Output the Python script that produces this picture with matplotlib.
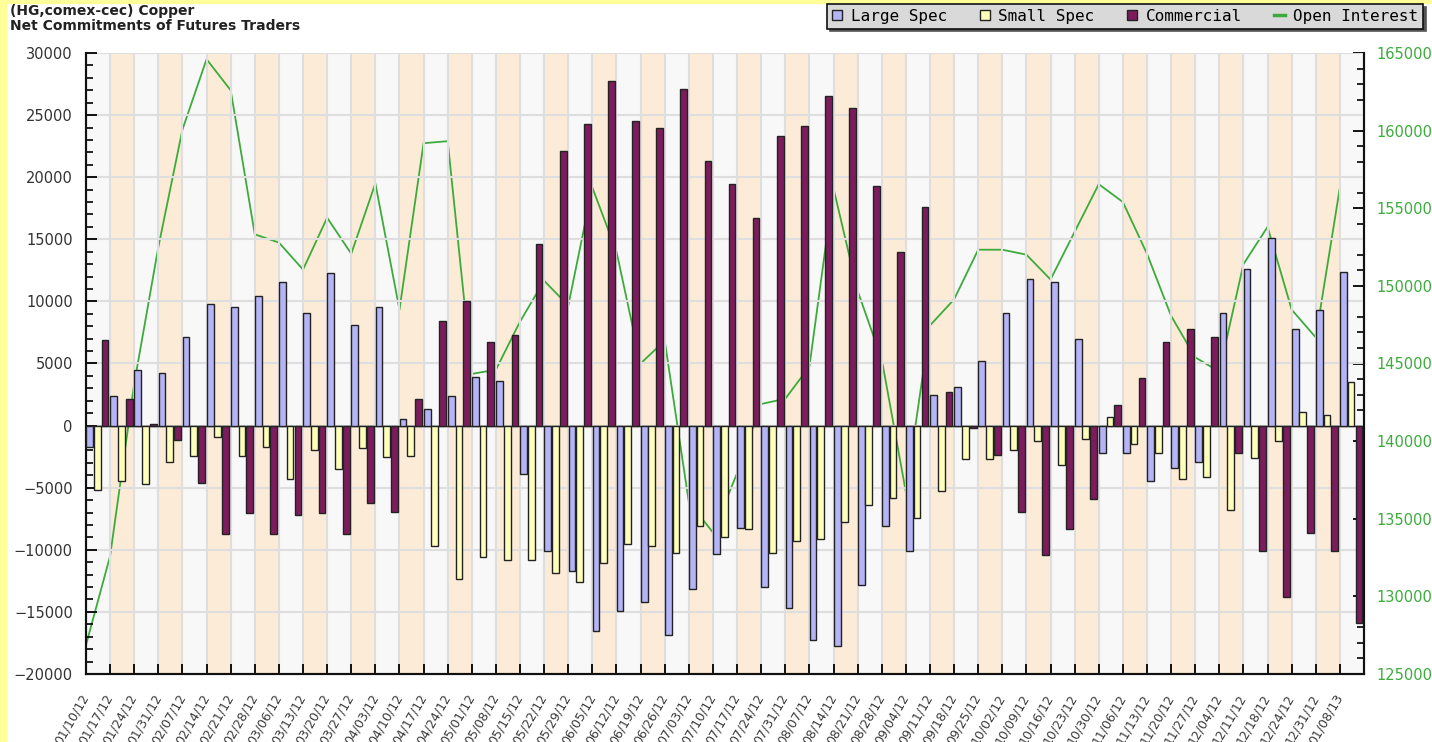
import matplotlib
matplotlib.use("Agg")
import matplotlib.pyplot as plt
import matplotlib.transforms as mtransforms
from matplotlib.lines import Line2D
from matplotlib.patches import Rectangle
from matplotlib.ticker import MultipleLocator, AutoMinorLocator
import numpy as np

weeks = ["01/10/12", "01/17/12", "01/24/12", "01/31/12", "02/07/12", "02/14/12", "02/21/12",
         "02/28/12", "03/06/12", "03/13/12", "03/20/12", "03/27/12", "04/03/12", "04/10/12",
         "04/17/12", "04/24/12", "05/01/12", "05/08/12", "05/15/12", "05/22/12", "05/29/12",
         "06/05/12", "06/12/12", "06/19/12", "06/26/12", "07/03/12", "07/10/12", "07/17/12",
         "07/24/12", "07/31/12", "08/07/12", "08/14/12", "08/21/12", "08/28/12", "09/04/12",
         "09/11/12", "09/18/12", "09/25/12", "10/02/12", "10/09/12", "10/16/12", "10/23/12",
         "10/30/12", "11/06/12", "11/13/12", "11/20/12", "11/27/12", "12/04/12", "12/11/12",
         "12/18/12", "12/24/12", "12/31/12", "01/08/13"]

large_spec = [-1700, 2400, 4500, 4270, 7130, 9770, 9530, 10470, 11530, 9070, 12270, 8130, 9530,
              500, 1330, 2400, 3900, 3570, -3900, -10100, -11670, -16570, -14930, -14230, -16830,
              -13170, -10330, -8230, -13000, -14670, -17270, -17730, -12800, -8070, -10100, 2470,
              3070, 5230, 9070, 11770, 11570, 7000, -2230, -2230, -4430, -3400, -2930, 9100, 12630,
              15070, 7770, 9330, 12330]

small_spec = [-5170, -4430, -4700, -2930, -2470, -930, -2430, -1730, -4330, -2000, -3530, -1770,
              -2530, -2430, -9670, -12330, -10570, -10830, -10830, -11900, -12570, -11070, -9500,
              -9670, -10230, -8070, -9000, -8330, -10230, -9270, -9170, -7730, -6430, -5830, -7400,
              -5270, -2670, -2670, -2000, -1270, -3170, -1070, 670, -1500, -2230, -4330, -4100,
              -6830, -2570, -1270, 1070, 830, 3500]

commercial = [6870, 2130, 100, -1170, -4600, -8700, -7070, -8700, -7170, -7070, -8700, -6230, -6930,
              2130, 8400, 10000, 6730, 7330, 14600, 22070, 24270, 27730, 24500, 23930, 27100, 21330,
              19430, 16730, 23330, 24130, 26500, 25570, 19330, 14000, 17570, 2700, -230, -2330,
              -6930, -10430, -8330, -5900, 1670, 3800, 6730, 7770, 7100, -2230, -10100, -13770,
              -8670, -10100, -15900]

open_interest = [126870, 132600, 143700, 152500, 160070, 164600, 162600, 153320, 152790, 151050,
                 154390, 152070, 156600, 148470, 159190, 159320, 144330, 144600, 147700, 150330,
                 148730, 156330, 152200, 145000, 146470, 136070, 134120, 137930, 142390, 142730,
                 144800, 156280, 149670, 145270, 136730, 147450, 149130, 152330, 152330, 152010,
                 150410, 153480, 156550, 155400, 152070, 148070, 145400, 144470, 151400, 153800,
                 148470, 146680, 156330]

C_LARGE = "#b4b4f6"
C_SMALL = "#ffffbc"
C_COMM = "#7c1c5c"
C_OI = "#3cab3c"
EDGE = "#222222"

fig = plt.figure(figsize=(14.32, 7.42), dpi=100, facecolor="white")
# yellow strips left and top of the original frame
fig.patches.append(Rectangle((0, 0), 6 / 1432, 1, transform=fig.transFigure, color="#ffff99", zorder=0))
fig.patches.append(Rectangle((0, 1 - 3 / 742), 1, 3 / 742, transform=fig.transFigure, color="#ffff99", zorder=0))

ax = fig.add_axes([86 / 1432, 1 - 674 / 742, (1364 - 86) / 1432, (674 - 53) / 742])
ax2 = ax.twinx()
ax.set_zorder(ax2.get_zorder() + 1)
ax.patch.set_visible(False)

n = len(weeks)
x = np.arange(n)

# alternating week bands + open interest (behind the bars)
for i in range(n):
    ax2.axvspan(i, i + 1, color="#f8f8f8" if i % 2 == 0 else "#fcebd6", lw=0, zorder=0)
ax2.plot(x, open_interest, color=C_OI, lw=1.3, zorder=2)
ax2.set_ylim(125000, 165000)

w = 0.28
ax.bar(x + 0.15, large_spec, w, color=C_LARGE, edgecolor=EDGE, lw=1, zorder=3)
ax.bar(x + 0.465, small_spec, w, color=C_SMALL, edgecolor=EDGE, lw=1, zorder=3)
ax.bar(x + 0.79, commercial, w, color=C_COMM, edgecolor=EDGE, lw=1, zorder=3)
ax.axhline(0, color=EDGE, lw=1, zorder=2.5)

ax.set_xlim(0, n)
ax.set_ylim(-20000, 30000)
ax.yaxis.set_major_locator(MultipleLocator(5000))
ax.yaxis.set_minor_locator(AutoMinorLocator(5))
ax2.yaxis.set_major_locator(MultipleLocator(5000))
ax2.yaxis.set_minor_locator(AutoMinorLocator(5))

ax.set_xticks(x)
ax.set_xticklabels(weeks, rotation=60, ha="right", va="center", rotation_mode="anchor",
                   fontsize=9, color="#3a3a3a")
offset = mtransforms.ScaledTranslation(7 / 100, 0, fig.dpi_scale_trans)
for lab in ax.get_xticklabels():
    lab.set_transform(lab.get_transform() + offset)

ax.grid(True, axis="both", which="major", color="#dedede", lw=1.5, zorder=1)
ax.set_axisbelow(True)

ax.tick_params(axis="y", which="major", direction="in", length=8, width=1.3, labelsize=10.5,
               labelcolor="#333333", pad=9.5)
ax.tick_params(axis="y", which="minor", direction="in", length=5, width=1.2)
ax.tick_params(axis="x", which="major", direction="in", length=7, width=1.3, pad=15)
ax2.tick_params(axis="y", which="major", direction="in", length=8, width=1.3, labelsize=10.5,
                labelcolor=C_OI, pad=9)
ax2.tick_params(axis="y", which="minor", direction="in", length=5, width=1.2)

for a in (ax, ax2):
    a.spines["top"].set_visible(False)
    for s in ("left", "right", "bottom"):
        a.spines[s].set_linewidth(1.5)
        a.spines[s].set_color("#111111")

fig.text(10 / 1432, 1 - 4 / 742, "(HG,comex-cec) Copper", fontsize=10, fontweight="bold",
         color="#222222", va="top")
fig.text(10 / 1432, 1 - 19 / 742, "Net Commitments of Futures Traders", fontsize=10,
         fontweight="bold", color="#222222", va="top")

handles = [
    Line2D([], [], ls="none", marker="s", ms=7, mfc=C_LARGE, mec=EDGE, mew=1),
    Line2D([], [], ls="none", marker="s", ms=7, mfc=C_SMALL, mec=EDGE, mew=1),
    Line2D([], [], ls="none", marker="s", ms=7, mfc=C_COMM, mec=EDGE, mew=1),
    Line2D([], [], color=C_OI, lw=2.5),
]
leg = fig.legend(handles, ["Large Spec", "Small Spec", "Commercial", "Open Interest"],
                 loc="upper right", bbox_to_anchor=(1423 / 1432, 1 - 4 / 742), ncol=4,
                 frameon=True, fancybox=False, framealpha=1, facecolor="#d9d9d9",
                 edgecolor="#111111", shadow={"color": "#555555", "alpha": 1},
                 prop={"family": "DejaVu Sans Mono", "size": 11.5}, handlelength=0.7,
                 handletextpad=0.5, columnspacing=2.0, borderpad=0.3, borderaxespad=0)
leg.get_frame().set_linewidth(1.2)

fig.savefig("out.png", dpi=100, facecolor="white")
